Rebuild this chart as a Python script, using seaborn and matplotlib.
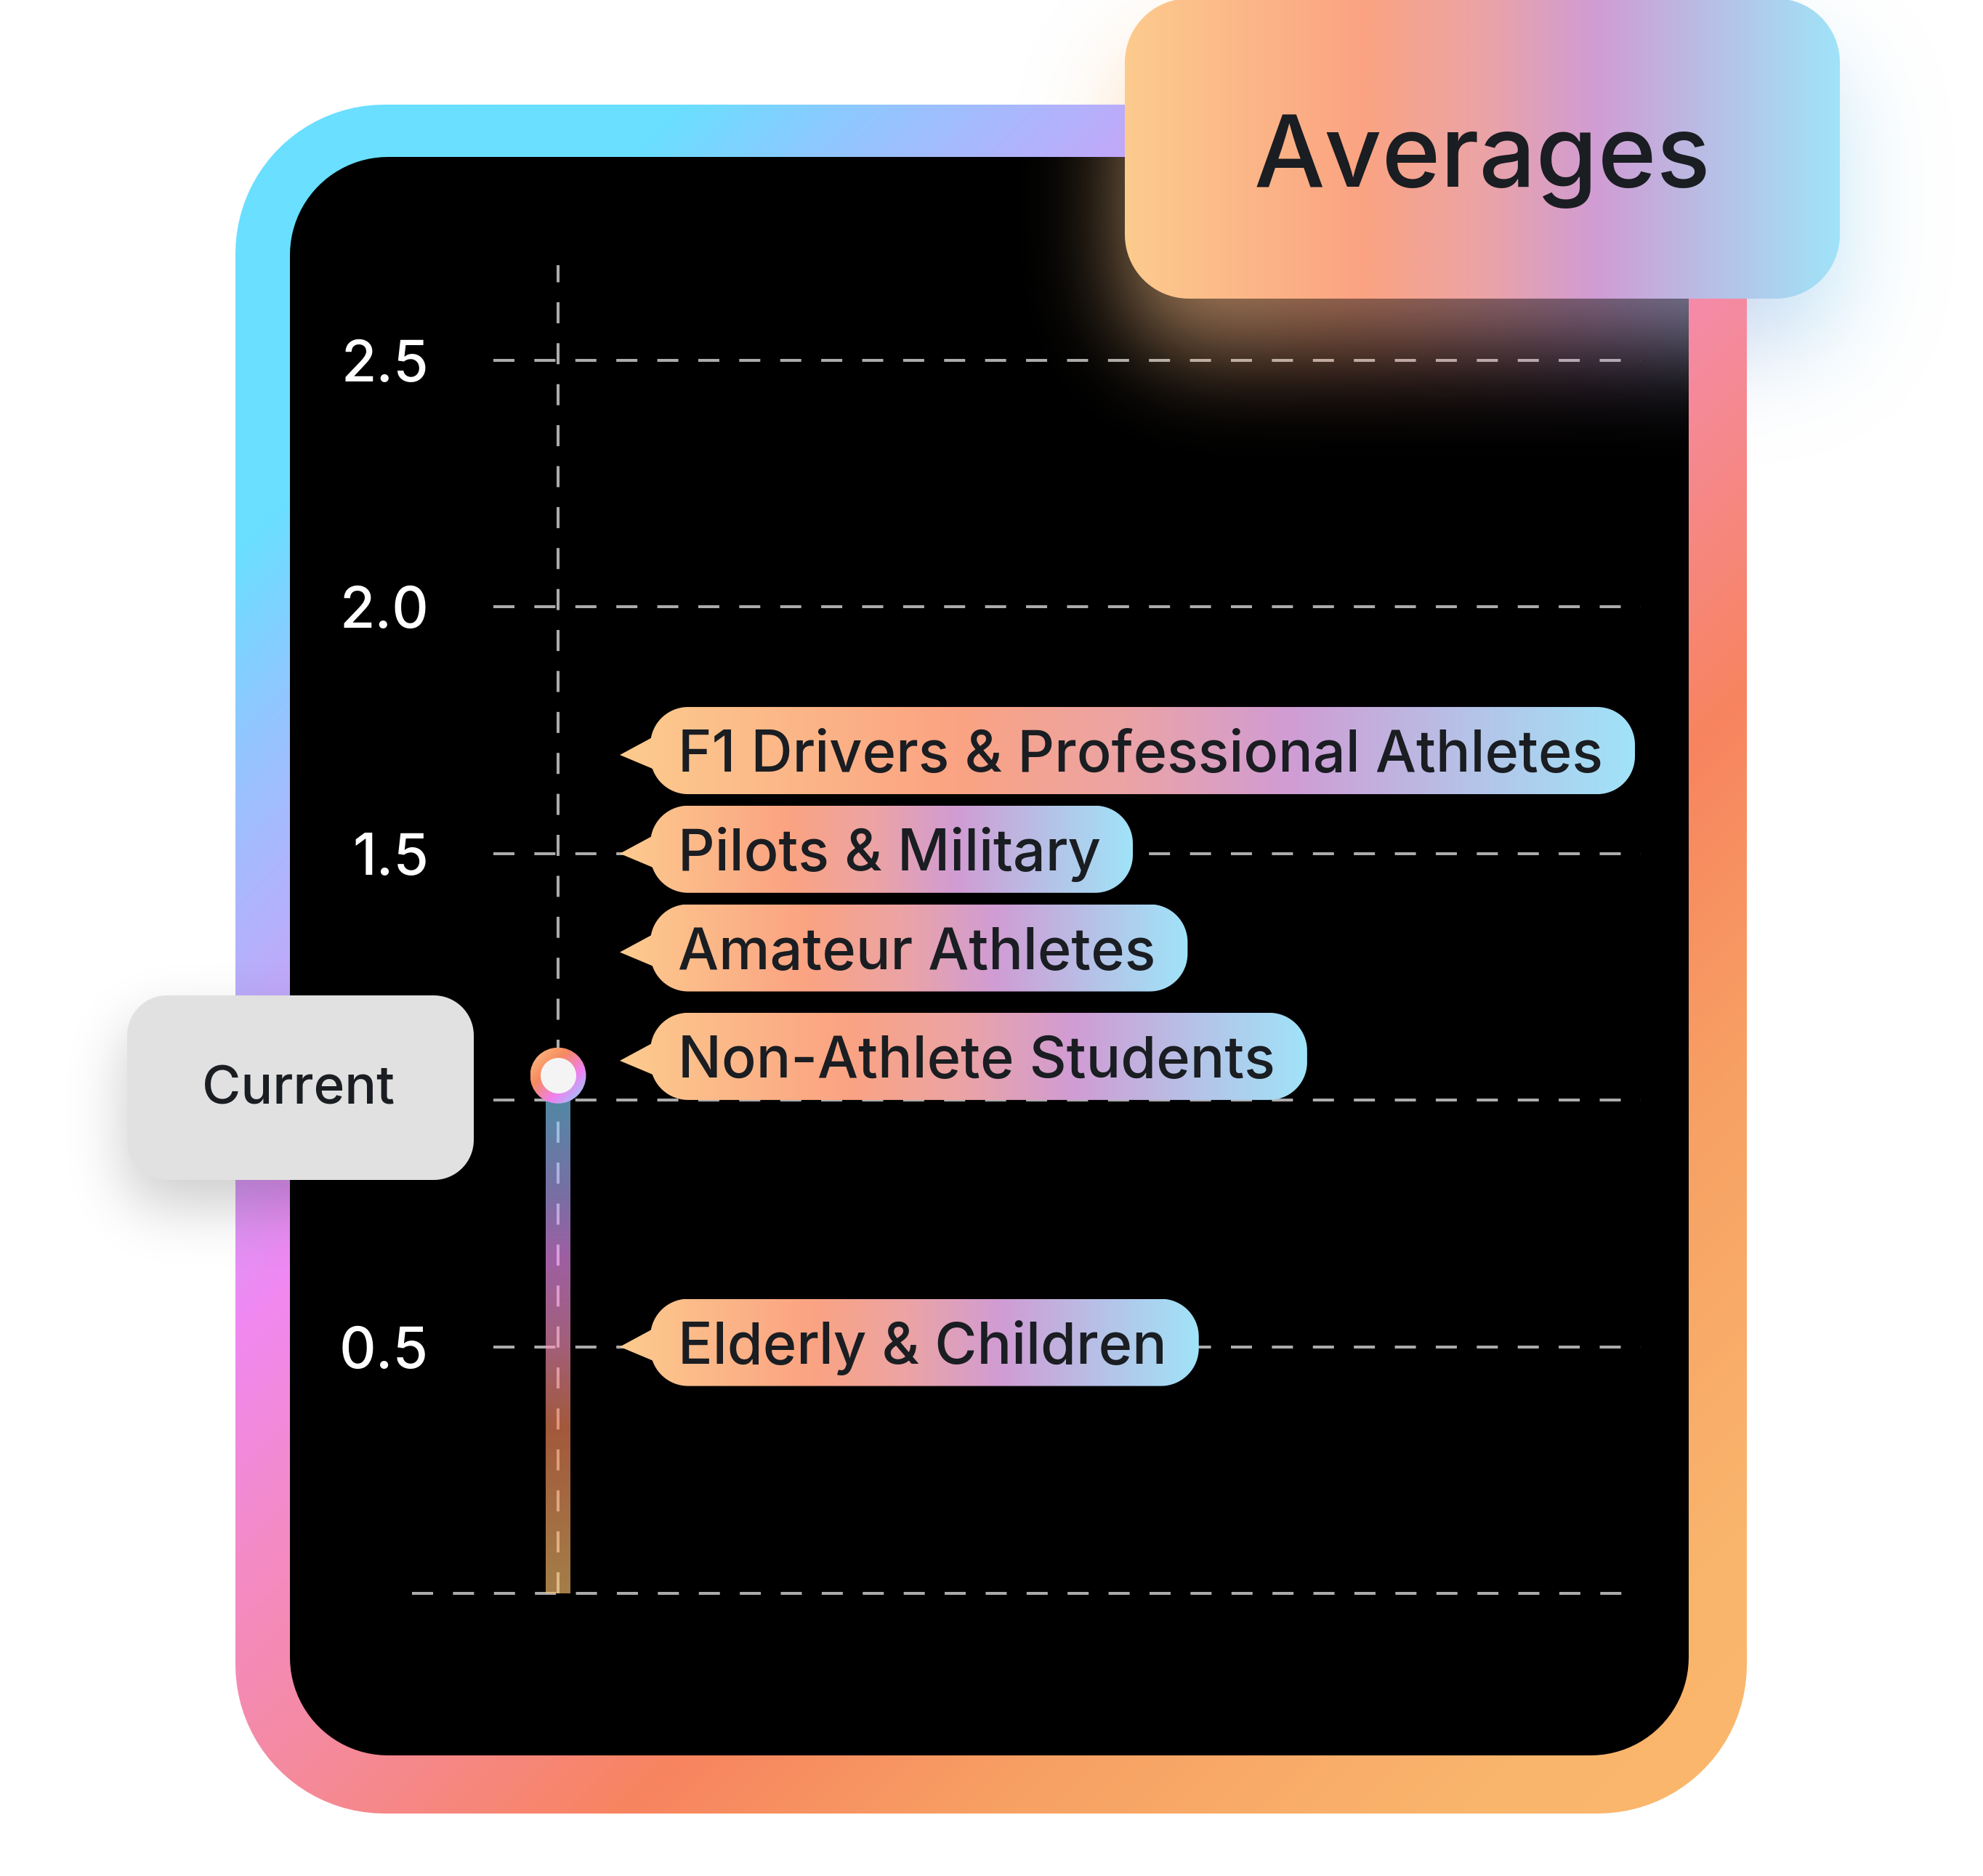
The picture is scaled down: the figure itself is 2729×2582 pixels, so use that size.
import numpy as np
import matplotlib
matplotlib.use("Agg")
import matplotlib.pyplot as plt
import seaborn as sns
from matplotlib.path import Path
from matplotlib.patches import PathPatch, Ellipse
from matplotlib.colors import to_rgb

# chart data
groups = ["F1 Drivers & Professional Athletes", "Pilots & Military", "Amateur Athletes",
          "Non-Athlete Students", "Elderly & Children"]
group_avgs = [1.7, 1.5, 1.3, 1.08, 0.5]
current_label = "Current"
current_pos = [0]
current_value = [1.05]
ytick_vals = [0.5, 1.0, 1.5, 2.0, 2.5]
ytick_labels = ["0.5", "", "1.5", "2.0", "2.5"]  # 1.0 sits under the Current badge
title = "Averages"

# colour stops
frame_stops = [(0, "#6ADFFF"), (1080, "#6ADFFF"), (1350, "#92C6FF"), (1650, "#B6B0FB"),
               (2150, "#F088F2"), (2500, "#F48BC4"), (2850, "#F58A9C"), (3350, "#F8845F"),
               (3850, "#F7A064"), (4500, "#FAB56C"), (5000, "#FBB86C")]
pill_stops = [(0, "#FDCB8E"), (0.33, "#FBA382"), (0.5, "#EBA3A5"), (0.66, "#D09CD4"),
              (0.84, "#B5C3E8"), (1.0, "#A0E3F8")]
bar_stops = [(0, "#70DEFF"), (0.23, "#BCACFF"), (0.35, "#F494FC"), (0.52, "#FC94BC"),
             (0.68, "#FC8A5C"), (1.0, "#FFC470")]
ring_stops = [(0, "#FDC58A"), (0.35, "#F78A5E"), (0.65, "#F080F0"), (1.0, "#80DDFF")]
text_dark = "#1A1D21"

W, H = 2729, 2582


def stops_rgb(t, stops):
    pos = np.array([p for p, _ in stops], float)
    cols = np.array([to_rgb(c) for _, c in stops])
    return np.stack([np.interp(t, pos, cols[:, i]) for i in range(3)], axis=-1)


def rr_verts(x0, y0, x1, y1, r, n=24):
    pts = []
    for cx, cy, a0, a1 in [(x1 - r, y0 + r, -90, 0), (x1 - r, y1 - r, 0, 90),
                           (x0 + r, y1 - r, 90, 180), (x0 + r, y0 + r, 180, 270)]:
        t = np.radians(np.linspace(a0, a1, n))
        pts += list(zip(cx + r * np.cos(t), cy + r * np.sin(t)))
    return np.array(pts)


def make_path(*polys):
    verts, codes = [], []
    for p in polys:
        p = np.asarray(p)
        verts += list(p) + [p[0]]
        codes += [Path.MOVETO] + [Path.LINETO] * (len(p) - 1) + [Path.CLOSEPOLY]
    return Path(verts, codes)


def rr_mask(X, Y, x0, y0, x1, y1, r):
    dx = np.maximum.reduce([x0 + r - X, np.zeros_like(X), X - (x1 - r)])
    dy = np.maximum.reduce([y0 + r - Y, np.zeros_like(Y), Y - (y1 - r)])
    return (dx ** 2 + dy ** 2 <= r ** 2).astype(float)


def blur(a, sigma):
    r = int(3 * sigma)
    k = np.exp(-0.5 * (np.arange(-r, r + 1) / sigma) ** 2)
    k /= k.sum()
    a = np.apply_along_axis(lambda v: np.convolve(v, k, mode="same"), 0, a)
    return np.apply_along_axis(lambda v: np.convolve(v, k, mode="same"), 1, a)


def fill_gradient(axis, path, img, extent, zorder, alpha=1.0):
    patch = PathPatch(path, fc="none", ec="none", transform=axis.transData)
    axis.add_patch(patch)
    im = axis.imshow(img, extent=extent, aspect="auto", interpolation="bilinear",
                     zorder=zorder, alpha=alpha)
    im.set_clip_path(patch)
    return im


sns.set_theme(style="white")
plt.rcParams["font.family"] = ["Inter", "DejaVu Sans"]
plt.rcParams["font.weight"] = "medium"

fig = plt.figure(figsize=(W / 100, H / 100), dpi=100)
fig.patch.set_facecolor("white")

# chart axes sits on the black panel
ax = fig.add_axes([399 / W, 1 - 2416 / H, 1925 / W, 2200 / H])
ax.set_zorder(1)
ax.set_facecolor("black")
px_per_x = 100.0
xlim = ((399 - 768) / px_per_x, (2324 - 768) / px_per_x)
unit = (2193 - 496) / 2.5
ylim = (-(2416 - 2193) / unit, 2.5 + (496 - 216) / unit)

dash = (0, (7.2, 6.8))
grid_col = "#ABABAB"
ax.hlines(ytick_vals, (679 - 768) / px_per_x, (2258 - 768) / px_per_x,
          colors=grid_col, linestyles=[dash], linewidth=2.9, zorder=1)
ax.hlines([0], (567 - 768) / px_per_x, (2258 - 768) / px_per_x,
          colors=grid_col, linestyles=[dash], linewidth=2.9, zorder=1)
ax.vlines(current_pos, 0, (2193 - 365) / unit, colors=grid_col,
          linestyles=[dash], linewidth=2.9, zorder=1)

sns.barplot(x=current_pos, y=current_value, native_scale=True, orient="x",
            width=0.34, errorbar=None, color="white", ax=ax, zorder=2)
bar = ax.patches[0]
bar.set_facecolor("none")
bar.set_edgecolor("none")
bx, bw, bh = bar.get_x(), bar.get_width(), bar.get_height()
bar_img = stops_rgb(np.linspace(0, 1, 256), bar_stops)[:, None, :]
im = ax.imshow(bar_img, extent=(bx, bx + bw, 0, bh), aspect="auto",
               interpolation="bilinear", alpha=0.65, zorder=2)
im.set_clip_path(bar)

# marker ring for the current value
ring_r = 38.5
rw, rh = ring_r / px_per_x, ring_r / unit
n = 64
ii, jj = np.mgrid[0:n, 0:n] / (n - 1)
ring_img = stops_rgb((ii + jj) / 2, ring_stops)
ell = Ellipse((current_pos[0], current_value[0]), 2 * rw, 2 * rh, fc="none", ec="none")
ax.add_patch(ell)
rim = ax.imshow(ring_img, extent=(current_pos[0] - rw, current_pos[0] + rw,
                                  current_value[0] - rh, current_value[0] + rh),
                aspect="auto", interpolation="bilinear", zorder=4)
rim.set_clip_path(ell)
sns.scatterplot(x=current_pos, y=current_value, s=1245, color="#F4F4F4",
                linewidth=0, zorder=5, ax=ax)

ax.set_xlim(*xlim)
ax.set_ylim(*ylim)
ax.set_xticks([])
ax.set_yticks(ytick_vals, ytick_labels)
ax.tick_params(axis="y", length=0, pad=-137.5, labelsize=56.5, labelcolor="white")
ax.set_xlabel("")
ax.set_ylabel("")
ax.grid(False)
for s in ax.spines.values():
    s.set_visible(False)

# overlay in pixel space for the decorations
ov = fig.add_axes([0, 0, 1, 1])
ov.set_zorder(3)
ov.set_facecolor("none")
ov.set_xlim(0, W)
ov.set_ylim(H, 0)
ov.set_autoscale_on(False)
ov.axis("off")

# glow under the title badge
gx = np.arange(1300, W, 4.0)
gy = np.arange(0, 1000, 4.0)
GX, GY = np.meshgrid(gx, gy)
gmask = rr_mask(GX, GY - 70, 1548, -2, 2532, 411, 88)
gcol = stops_rgb(np.clip((GX - 1548) / (2532 - 1548), 0, 1), pill_stops)
a = blur(gmask, 65 / 4)
c = np.stack([blur(gmask * gcol[..., i], 65 / 4) for i in range(3)], axis=-1)
c = c / np.maximum(a, 1e-6)[..., None]
glow = np.dstack([np.clip(c, 0, 1), np.clip(a * 0.65, 0, 1)])
ov.imshow(glow, extent=(1300, W, 1000, 0), aspect="auto", interpolation="bilinear", zorder=1)

# gradient frame ring
fx = np.arange(324, 2408, 4.0)
fy = np.arange(144, 2500, 4.0)
FX, FY = np.meshgrid(fx, fy)
frame_img = stops_rgb(FX + FY, frame_stops)
ring_path = make_path(rr_verts(324, 144, 2404, 2496, 205), rr_verts(399, 216, 2324, 2416, 135)[::-1])
fill_gradient(ov, ring_path, frame_img, (324, 2408, 2500, 144), zorder=2)

# callout pills, placed through the chart's data transform
renderer = fig.canvas.get_renderer()
pill_grad = stops_rgb(np.linspace(0, 1, 256), pill_stops)[None, :, :]
for name, v in zip(groups, group_avgs):
    ty = H - ax.transData.transform((0, v))[1]
    yc = ty - 6
    txt = ov.text(933, yc + 29, name, fontsize=57, color=text_dark,
                  ha="left", va="baseline", zorder=6)
    x1 = txt.get_window_extent(renderer).x1 + 44
    tri = np.array([(853, ty), (903, ty - 27), (903, ty + 21)])
    path = make_path(rr_verts(895, yc - 60, x1, yc + 60, 52), tri)
    fill_gradient(ov, path, pill_grad, (853, x1, yc + 60, yc - 60), zorder=5)

# current badge with soft shadow
sx = np.arange(0, 1000, 4.0)
sy = np.arange(1200, 2000, 4.0)
SX, SY = np.meshgrid(sx, sy)
smask = blur(rr_mask(SX + 5, SY - 35, 175, 1370, 652, 1624, 55), 40 / 4)
shadow = np.zeros(smask.shape + (4,))
shadow[..., 3] = smask * 0.2
ov.imshow(shadow, extent=(0, 1000, 2000, 1200), aspect="auto", interpolation="bilinear", zorder=3)
ov.add_patch(PathPatch(make_path(rr_verts(175, 1370, 652, 1624, 55)), fc="#E1E1E1", ec="none", zorder=4))
ov.text(410, 1519, current_label, fontsize=52.5, color=text_dark, ha="center", va="baseline", zorder=6)

# title badge
badge_grad = stops_rgb(np.linspace(0, 1, 256), pill_stops)[None, :, :]
fill_gradient(ov, make_path(rr_verts(1548, -2, 2532, 411, 88)), badge_grad, (1548, 2532, 411, -2), zorder=5)
ov.text(2040, 257, title, fontsize=99, color=text_dark, ha="center", va="baseline", zorder=6)

fig.savefig("out.png", dpi=100, facecolor="white")
